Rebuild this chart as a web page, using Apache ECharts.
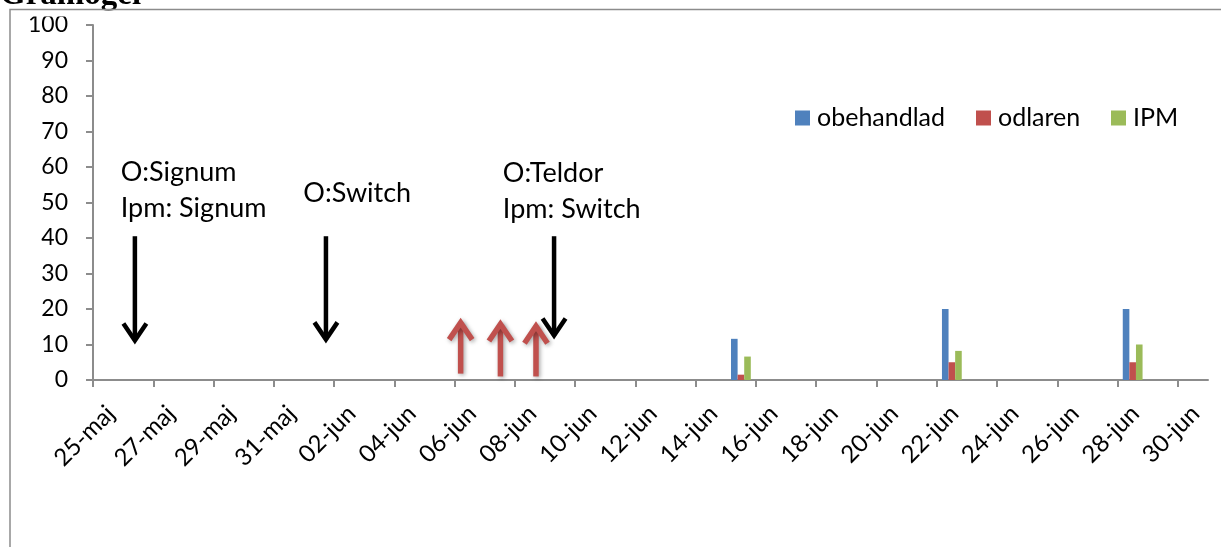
<!DOCTYPE html>
<html>
<head>
<meta charset="utf-8">
<title>Gråmögel</title>
<script src="https://cdn.jsdelivr.net/npm/echarts@6/dist/echarts.min.js"></script>
<style>
  html, body { margin: 0; padding: 0; background: #fff; }
  #chart { width: 1221px; height: 547px; }
</style>
</head>
<body>
<div id="chart"></div>
<script>
// ---- data ----
const seriesNames = ['obehandlad', 'odlaren', 'IPM'];
const sampleDates = ['15-jun', '22-jun', '28-jun'];
const obehandlad = [11.6, 20, 20];
const odlaren = [1.5, 5, 5];
const ipm = [6.6, 8.2, 10];

const xTickLabels = ['25-maj', '27-maj', '29-maj', '31-maj', '02-jun', '04-jun', '06-jun',
  '08-jun', '10-jun', '12-jun', '14-jun', '16-jun', '18-jun', '20-jun', '22-jun',
  '24-jun', '26-jun', '28-jun', '30-jun'];
const axisEndDate = '01-jul';

// treatment notes: position in days after 25-maj, level on the value axis
const noteText = ['O:Signum\nIpm: Signum', 'O:Switch', 'O:Teldor\nIpm: Switch'];
const noteDay = [0.92, 6.98, 13.6];
const noteLevel = [53.5, 52.6, 53.2];

// spray arrows (black, pointing down) and red arrows (pointing up)
const blackArrowDay = [1.39, 7.73, 15.3];
const blackArrowFrom = [40.5, 40.5, 40.5];
const blackArrowTo = [10.3, 10.6, 11.7];
const redArrowDay = [12.2, 13.52, 14.7];
const redArrowFrom = [1.8, 1.0, 1.0];
const redArrowTo = [17.0, 16.6, 16.0];

// ---- helpers ----
const monthIndex = { maj: 4, jun: 5, jul: 6 };
function toTime(label) {
  const [d, m] = label.split('-');
  return Date.UTC(2000, monthIndex[m], parseInt(d, 10));
}
const originTime = toTime(xTickLabels[0]);
function dayOffset(label) {
  return Math.round((toTime(label) - originTime) / 86400000);
}
const tickValues = xTickLabels.map(dayOffset);
const labelByValue = {};
xTickLabels.forEach((l, i) => { labelByValue[tickValues[i]] = l; });

// bars sit in the middle of their day
function barData(values) {
  return sampleDates.map((d, i) => [dayOffset(d) + 0.5, values[i]]);
}

const colors = ['#4f81bd', '#c0504d', '#9bbb59'];
const axisGrey = '#8c8c8c';
const font = 'Lato';

function arrowRenderer(color, lineWidth, shadow) {
  return function (params, api) {
    const x = api.value(0);
    const start = api.coord([x, api.value(1)]);
    const tip = api.coord([x, api.value(2)]);
    const dir = tip[1] > start[1] ? 1 : -1;
    const hw = 11.5, hh = 20;
    const style = { stroke: color, lineWidth: lineWidth, fill: null, lineCap: 'butt', lineJoin: 'miter' };
    if (shadow) {
      Object.assign(style, { shadowBlur: 4, shadowColor: 'rgba(0,0,0,0.35)', shadowOffsetX: 1.5, shadowOffsetY: 1.5 });
    }
    return {
      type: 'group',
      children: [
        { type: 'line', shape: { x1: start[0], y1: start[1], x2: tip[0], y2: tip[1] - dir * 3 }, style: style },
        { type: 'polyline', shape: { points: [[tip[0] - hw, tip[1] - dir * hh], [tip[0], tip[1] - dir * 3], [tip[0] + hw, tip[1] - dir * hh]] }, style: style }
      ]
    };
  };
}

const chart = echarts.init(document.getElementById('chart'), null, { renderer: 'canvas' });

const option = {
  animation: false,
  backgroundColor: '#fff',
  grid: { left: 93, right: 13, top: 25, bottom: 167, containLabel: false, outerBoundsMode: 'none' },
  legend: seriesNames.map((n, i) => ({
    data: [n],
    left: [795, 976, 1111][i],
    top: 105,
    padding: 0,
    itemGap: 0,
    icon: 'rect',
    itemWidth: 15,
    itemHeight: 15,
    selectedMode: false,
    textStyle: { fontFamily: font, fontSize: 25, color: '#000', lineHeight: 26, padding: [0, 0, 0, 2] }
  })),
  xAxis: {
    type: 'value',
    min: 0,
    max: dayOffset(axisEndDate),
    interval: 2,
    splitLine: { show: false },
    axisLine: { show: true, lineStyle: { color: axisGrey, width: 2 } },
    axisTick: { show: true, length: 7, customValues: tickValues, lineStyle: { color: axisGrey, width: 2 } },
    axisLabel: {
      customValues: tickValues,
      formatter: v => labelByValue[v] || '',
      rotate: 45,
      margin: 12,
      verticalAlign: 'top',
      padding: [13, 0, 0, 0],
      fontFamily: font,
      fontSize: 24,
      color: '#000'
    }
  },
  yAxis: {
    type: 'value',
    min: 0,
    max: 100,
    interval: 10,
    splitLine: { show: false },
    axisLine: { show: true, lineStyle: { color: axisGrey, width: 2 } },
    axisTick: { show: true, length: 7, lineStyle: { color: axisGrey, width: 2 } },
    axisLabel: { margin: 25, fontFamily: font, fontSize: 23, color: '#000' }
  },
  series: [
    { name: seriesNames[0], type: 'bar', data: barData(obehandlad), barWidth: 6.6, barGap: '0%', itemStyle: { color: colors[0] } },
    { name: seriesNames[1], type: 'bar', data: barData(odlaren), barWidth: 6.6, barGap: '0%', itemStyle: { color: colors[1] } },
    { name: seriesNames[2], type: 'bar', data: barData(ipm), barWidth: 6.6, barGap: '0%', itemStyle: { color: colors[2] } },
    {
      type: 'custom', silent: true, z: 5, clip: false,
      renderItem: arrowRenderer('#000', 4.5, false),
      encode: { x: 0, y: [1, 2] },
      data: blackArrowDay.map((d, i) => [d, blackArrowFrom[i], blackArrowTo[i]])
    },
    {
      type: 'custom', silent: true, z: 5, clip: false,
      renderItem: arrowRenderer('#c0504d', 5.5, true),
      encode: { x: 0, y: [1, 2] },
      data: redArrowDay.map((d, i) => [d, redArrowFrom[i], redArrowTo[i]])
    },
    {
      type: 'custom', silent: true, z: 5, clip: false,
      encode: { x: 0, y: 1 },
      data: noteDay.map((d, i) => [d, noteLevel[i]]),
      renderItem: function (params, api) {
        const p = api.coord([api.value(0), api.value(1)]);
        return {
          type: 'text',
          x: p[0], y: p[1],
          style: {
            text: noteText[params.dataIndex],
            font: '27px ' + font,
            fill: '#000',
            align: 'left',
            verticalAlign: 'middle',
            lineHeight: 36
          }
        };
      }
    }
  ],
  graphic: [
    {
      type: 'text', left: 0, top: -21, z: 1,
      style: { text: 'Gråmögel', font: 'bold 33px "Liberation Serif"', fill: '#000' }
    },
    {
      type: 'rect', z: 2, silent: true,
      shape: { x: 11, y: 10.5, width: 400, height: 6 },
      style: { fill: '#fff' }
    },
    {
      type: 'rect', z: 3, silent: true,
      shape: { x: 10, y: 9.5, width: 1400, height: 700 },
      style: { fill: null, stroke: axisGrey, lineWidth: 1.5 }
    }
  ]
};

chart.setOption(option);
</script>
</body>
</html>
